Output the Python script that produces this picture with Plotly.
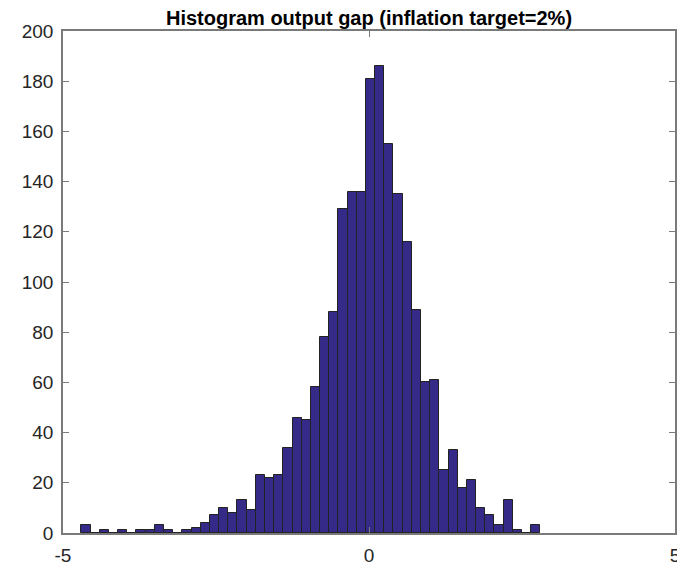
import plotly.graph_objects as go

# histogram of the output gap, 50 bins of width 0.15 starting at -4.70
bin_start = -4.70
bin_width = 0.15
counts = [3, 0, 1, 0, 1, 0, 1, 1, 3, 1,
          0, 1, 2, 4, 7, 10, 8, 13, 9, 23,
          22, 23, 34, 46, 45, 58, 78, 88, 129, 136,
          136, 181, 186, 155, 135, 116, 89, 60, 61, 25,
          33, 18, 21, 10, 7, 3, 13, 1, 0, 3]

centers = [bin_start + bin_width * (i + 0.5) for i in range(len(counts))]

x_ticks = [-5, 0, 5]
x_labels = ['-5', '0', '5']
y_ticks = list(range(0, 201, 20))

fig = go.Figure(go.Bar(
    x=centers,
    y=counts,
    width=bin_width,
    marker=dict(color='#352A87', line=dict(color='#222222', width=1)),
    hovertemplate='%{x:.2f}: %{y}<extra></extra>'
))

axis_style = dict(
    showline=True,
    linecolor='#7a7a7a',
    linewidth=1.5,
    mirror='ticks',
    ticks='inside',
    ticklen=6,
    tickcolor='#7a7a7a',
    showgrid=False,
    zeroline=False,
    automargin=False,
    tickfont=dict(family='Liberation Sans, Arial', size=19, color='#262626'),
)

fig.update_xaxes(range=[-5, 5], tickvals=x_ticks, ticktext=x_labels,
                 ticklabelstandoff=4, **axis_style)
fig.update_yaxes(range=[0, 200], tickvals=y_ticks, ticklabelstandoff=4, **axis_style)

# the page body has an 8px margin, so the figure is a little smaller than the window
W, H = 677, 558
fig.update_layout(
    title=dict(
        text='<b>Histogram output gap (inflation target=2%)</b>',
        x=361 / W,
        xanchor='center',
        yref='container',
        y=1 - 10 / H,
        yanchor='middle',
        automargin=False,
        font=dict(family='Liberation Sans, Arial', size=20, color='#000000'),
    ),
    width=W,
    height=H,
    margin=dict(l=55, r=10, t=23, b=33),
    bargap=0,
    plot_bgcolor='white',
    paper_bgcolor='white',
    showlegend=False,
)

fig.write_html('out.html')
